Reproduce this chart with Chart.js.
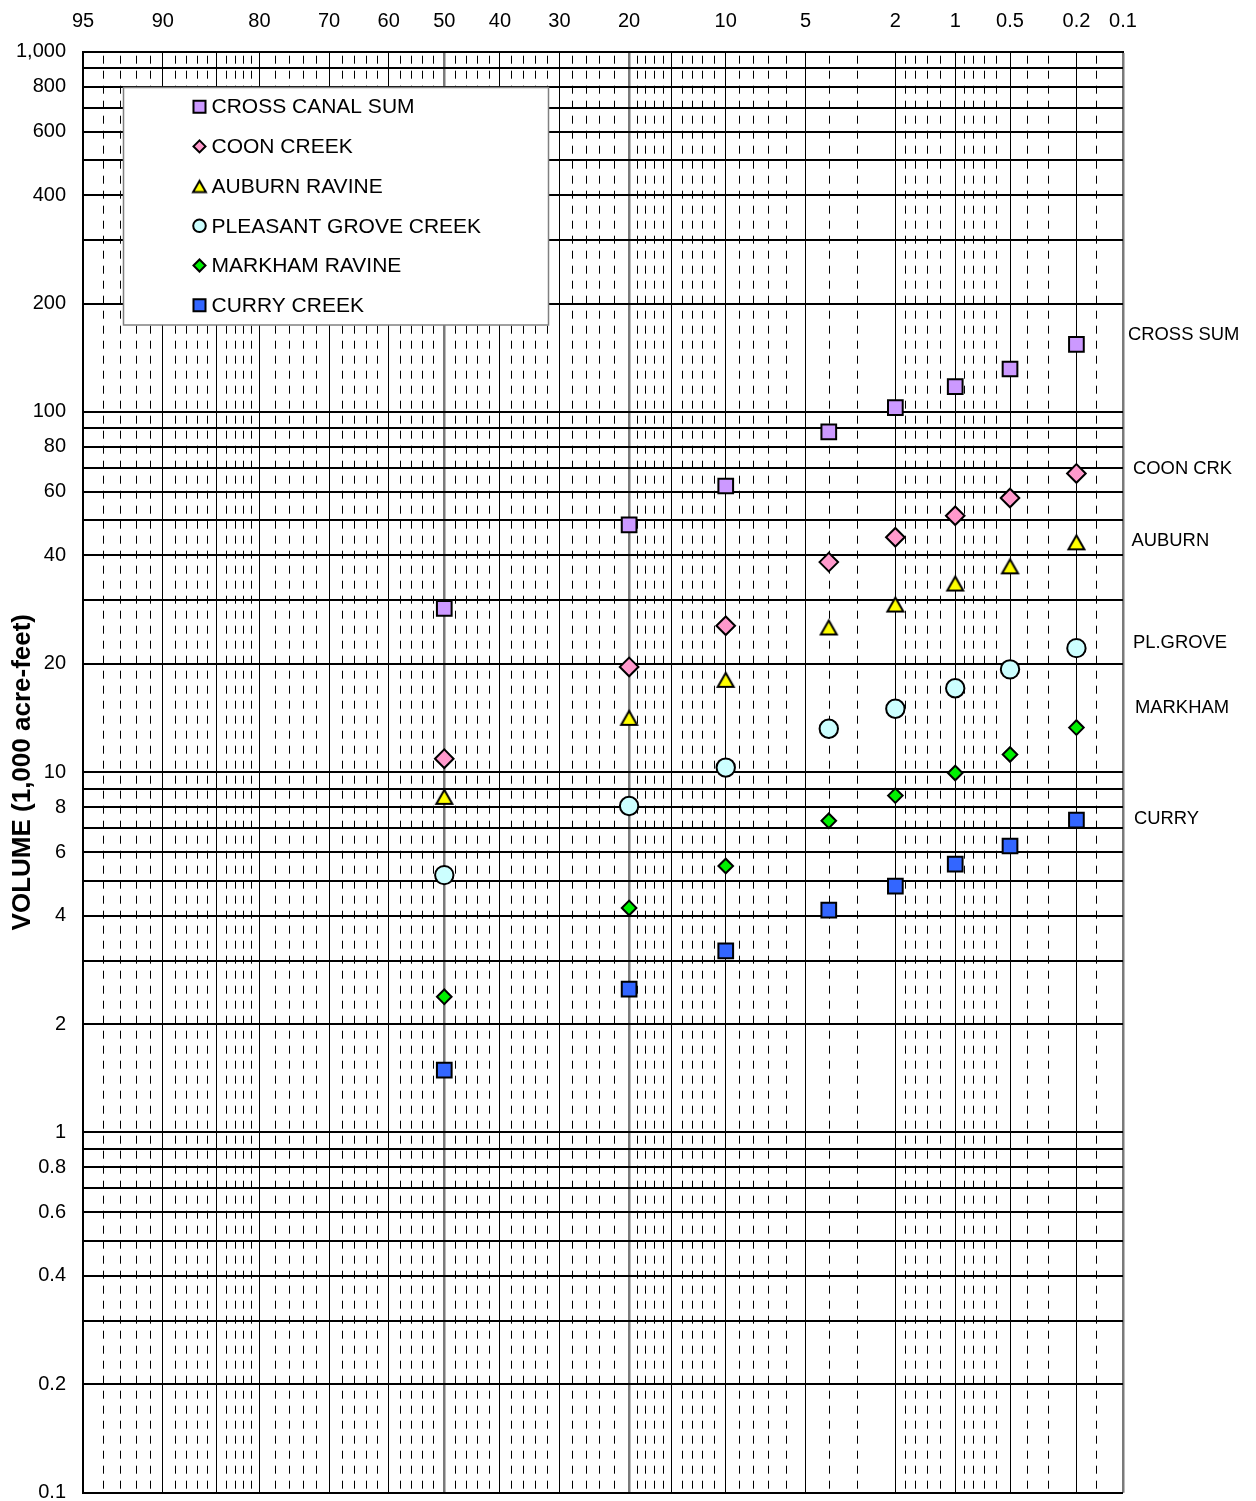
<!DOCTYPE html>
<html><head><meta charset="utf-8">
<script src="https://cdn.jsdelivr.net/npm/chart.js@4/dist/chart.umd.min.js"></script>
<style>html,body{margin:0;padding:0;background:#fff}canvas{display:block}</style>
</head><body>
<canvas id="c" width="1256" height="1501"></canvas>
<script>
// ---- data (exceedance probability in %, volume in 1,000 acre-feet) ----
const exceedanceProb = [50, 20, 10, 4, 2, 1, 0.5, 0.2];
const crossCanalSum = [28.5, 48.6, 62.3, 88.1, 102.8, 117.5, 131.6, 154.1];
const coonCreek = [10.9, 19.6, 25.5, 38.3, 44.9, 51.5, 57.7, 67.5];
const auburnRavine = [8.57, 14.2, 18.1, 25.3, 29.3, 33.5, 37.4, 43.6];
const pleasantGroveCreek = [5.18, 8.06, 10.3, 13.2, 15.0, 17.1, 19.3, 22.1];
const markhamRavine = [2.38, 4.2, 5.49, 7.33, 8.61, 9.95, 11.2, 13.3];
const curryCreek = [1.49, 2.5, 3.19, 4.14, 4.83, 5.56, 6.24, 7.36];
const seriesNames = ['CROSS CANAL SUM', 'COON CREEK', 'AUBURN RAVINE', 'PLEASANT GROVE CREEK', 'MARKHAM RAVINE', 'CURRY CREEK'];
const endLabels = ['CROSS SUM', 'COON CRK', 'AUBURN', 'PL.GROVE', 'MARKHAM', 'CURRY'];

// ---- axis ticks ----
const xLabelTicks = [95, 90, 80, 70, 60, 50, 40, 30, 20, 10, 5, 2, 1, 0.5, 0.2, 0.1];
const xMajorLines = [95, 90, 85, 80, 70, 60, 50, 40, 30, 20, 15, 10, 5, 2, 1, 0.5, 0.2, 0.1];
const xMinorLines = [94, 93, 92, 91, 89, 88, 87, 86, 84, 83, 82, 81, 78, 76, 74, 72, 68, 66, 64, 62,
  58, 56, 54, 52, 48, 46, 44, 42, 38, 36, 34, 32, 28, 26, 24, 22, 19, 18, 17, 16, 14, 13, 12, 11,
  9, 8, 7, 6, 4, 3, 1.8, 1.6, 1.4, 1.2, 0.9, 0.8, 0.7, 0.6, 0.4, 0.3, 0.15];
const yGridValues = [0.1, 0.2, 0.3, 0.4, 0.5, 0.6, 0.7, 0.8, 0.9, 1, 2, 3, 4, 5, 6, 7, 8, 9,
  10, 20, 30, 40, 50, 60, 70, 80, 90, 100, 200, 300, 400, 500, 600, 700, 800, 900, 1000];
const yLabelValues = [1000, 800, 600, 400, 200, 100, 80, 60, 40, 20, 10, 8, 6, 4, 2, 1, 0.8, 0.6, 0.4, 0.2, 0.1];
const yLabelTexts = ['1,000', '800', '600', '400', '200', '100', '80', '60', '40', '20', '10', '8', '6', '4', '2', '1', '0.8', '0.6', '0.4', '0.2', '0.1'];

const FONT = "'Liberation Sans', Arial, sans-serif";
const same = (a, b) => Math.abs(a - b) < 1e-9 * Math.max(1, Math.abs(b));

// inverse standard normal CDF (Acklam)
function normInv(p) {
  const a = [-3.969683028665376e+01, 2.209460984245205e+02, -2.759285104469687e+02, 1.383577518672690e+02, -3.066479806614716e+01, 2.506628277459239e+00];
  const b = [-5.447609879822406e+01, 1.615858368580409e+02, -1.556989798598866e+02, 6.680131188771972e+01, -1.328068155288572e+01];
  const c = [-7.784894002430293e-03, -3.223964580411365e-01, -2.400758277161838e+00, -2.549732539343734e+00, 4.374664141464968e+00, 2.938163982698783e+00];
  const d = [7.784695709041462e-03, 3.224671290700398e-01, 2.445134137142996e+00, 3.754408661907416e+00];
  const pl = 0.02425, ph = 1 - pl;
  let q, r;
  if (p < pl) { q = Math.sqrt(-2 * Math.log(p)); return (((((c[0]*q+c[1])*q+c[2])*q+c[3])*q+c[4])*q+c[5]) / ((((d[0]*q+d[1])*q+d[2])*q+d[3])*q+1); }
  if (p <= ph) { q = p - 0.5; r = q*q; return (((((a[0]*r+a[1])*r+a[2])*r+a[3])*r+a[4])*r+a[5])*q / (((((b[0]*r+b[1])*r+b[2])*r+b[3])*r+b[4])*r+1); }
  q = Math.sqrt(-2 * Math.log(1 - p)); return -(((((c[0]*q+c[1])*q+c[2])*q+c[3])*q+c[4])*q+c[5]) / ((((d[0]*q+d[1])*q+d[2])*q+d[3])*q+1);
}
function zOf(pct) { const p = Math.min(Math.max(1 - pct / 100, 1e-9), 1 - 1e-9); return normInv(p); }

// custom normal-probability scale (values = exceedance %)
class ProbabilityScale extends Chart.Scale {
  determineDataLimits() { this.min = this.options.min; this.max = this.options.max; }
  buildTicks() { return xMajorLines.map(v => ({ value: v })); }
  configure() { super.configure(); this._z0 = zOf(this.min); this._z1 = zOf(this.max); }
  getLabelForValue(v) { return String(v); }
  getPixelForValue(v) { return this.getPixelForDecimal((zOf(v) - this._z0) / (this._z1 - this._z0)); }
  getValueForPixel(px) {
    const dec = this.getDecimalForPixel(px);
    const z = this._z0 + dec * (this._z1 - this._z0);
    let lo = 1e-6, hi = 100 - 1e-6;
    for (let i = 0; i < 60; i++) { const m = (lo + hi) / 2; if (zOf(m) > z) lo = m; else hi = m; }
    return (lo + hi) / 2;
  }
}
ProbabilityScale.id = 'probability';
ProbabilityScale.defaults = {};
Chart.register(ProbabilityScale);

function makeTriangle(size, fill) {
  const c = document.createElement('canvas');
  c.width = size; c.height = size;
  const g = c.getContext('2d');
  const s = size;
  g.beginPath();
  g.moveTo(s / 2, s * 0.19);
  g.lineTo(s * 0.88, s * 0.86);
  g.lineTo(s * 0.12, s * 0.86);
  g.closePath();
  g.fillStyle = fill; g.fill();
  g.lineWidth = 2; g.strokeStyle = '#000'; g.lineJoin = 'miter'; g.stroke();
  return c;
}
const triBig = makeTriangle(21, '#FFFF00');
const triSmall = makeTriangle(17, '#FFFF00');

const seriesValues = [crossCanalSum, coonCreek, auburnRavine, pleasantGroveCreek, markhamRavine, curryCreek];
const styles = [
  { bg: '#CC99FF', style: 'rect', r: 10.4, lr: 8.5 },
  { bg: '#FF99CC', style: 'rectRot', r: 9.3, lr: 6 },
  { bg: '#FFFF00', style: triBig, r: 9, lr: 0, legendStyle: triSmall },
  { bg: '#CCFFFF', style: 'circle', r: 9.2, lr: 6.3 },
  { bg: '#00F000', style: 'rectRot', r: 7.3, lr: 6 },
  { bg: '#3366FF', style: 'rect', r: 10.4, lr: 8.5 }
];

const datasets = seriesNames.map((name, i) => ({
  label: name,
  data: exceedanceProb.map((p, j) => ({ x: p, y: seriesValues[i][j] })),
  pointStyle: styles[i].style,
  pointRadius: styles[i].r,
  backgroundColor: styles[i].bg,
  borderColor: '#000',
  borderWidth: 2,
  showLine: false
}));

const minorGridPlugin = {
  id: 'minorGrid',
  beforeDatasetsDraw(chart) {
    const { ctx, chartArea: a } = chart;
    const x = chart.scales.x;
    ctx.save();
    ctx.beginPath(); ctx.rect(a.left, a.top, a.right - a.left, a.bottom - a.top); ctx.clip();
    ctx.strokeStyle = '#000'; ctx.lineWidth = 1; ctx.setLineDash([8, 7]);
    xMinorLines.forEach(p => {
      const px = Math.round(x.getPixelForValue(p)) + 0.5;
      ctx.beginPath(); ctx.moveTo(px, a.top + 4); ctx.lineTo(px, a.bottom); ctx.stroke();
    });
    ctx.restore();
  }
};

const legendPlugin = {
  id: 'boxLegend',
  afterDatasetsDraw(chart) {
    const { ctx } = chart;
    const bx = 123.5, by = 87.5, bw = 425, bh = 237.5;
    ctx.save();
    ctx.fillStyle = '#fff';
    ctx.fillRect(bx, by, bw, bh);
    ctx.strokeStyle = '#808080'; ctx.lineWidth = 1.5;
    ctx.strokeRect(bx, by, bw, bh);
    ctx.font = '21px ' + FONT;
    ctx.textBaseline = 'middle'; ctx.textAlign = 'left';
    seriesNames.forEach((name, i) => {
      const cy = 106.7 + i * 39.7;
      const st = styles[i];
      ctx.fillStyle = st.bg; ctx.strokeStyle = '#000'; ctx.lineWidth = 2;
      Chart.helpers.drawPoint(ctx, {
        pointStyle: st.legendStyle || st.style, radius: st.lr, rotation: 0, borderWidth: 2
      }, 199.5, cy);
      ctx.fillStyle = '#000';
      ctx.fillText(name, 211.5, cy + 1);
    });
    ctx.restore();
  }
};

const endLabelPlugin = {
  id: 'endLabels',
  afterDraw(chart) {
    const { ctx, chartArea: a } = chart;
    const offs = [5, 10, 8.5, 10, 12, 11];
    const ys = [334, 468, 540, 641.7, 707, 818];
    ctx.save();
    ctx.font = '18.4px ' + FONT;
    ctx.fillStyle = '#000'; ctx.textAlign = 'left'; ctx.textBaseline = 'middle';
    endLabels.forEach((t, i) => ctx.fillText(t, a.right + offs[i], ys[i] + 1));
    ctx.restore();
  }
};

new Chart(document.getElementById('c'), {
  type: 'scatter',
  data: { datasets },
  options: {
    responsive: false,
    animation: false,
    events: [],
    layout: { autoPadding: false, padding: { left: 0, right: 133, top: 0, bottom: 8.3 } },
    plugins: { legend: { display: false }, tooltip: { enabled: false } },
    scales: {
      x: {
        type: 'probability',
        position: 'top',
        min: 95, max: 0.1,
        afterFit(s) { s.height = 51.7; s.paddingLeft = 0; s.paddingRight = 0; },
        border: { display: true, color: '#000', width: 2 },
        grid: {
          drawTicks: false,
          color: ctx => {
            const v = ctx.tick && ctx.tick.value;
            return (same(v, 50) || same(v, 20) || same(v, 0.1)) ? '#7a7a7a' : '#000';
          },
          lineWidth: ctx => {
            const v = ctx.tick && ctx.tick.value;
            if (same(v, 50) || same(v, 20) || same(v, 0.1)) return 2.5;
            if (same(v, 95)) return 2;
            return 1;
          }
        },
        ticks: {
          autoSkip: false, maxRotation: 0, padding: 18,
          color: '#000', font: { family: FONT, size: 20 },
          callback: v => (xLabelTicks.some(t => same(t, v)) ? String(v) : '')
        }
      },
      y: {
        type: 'logarithmic',
        position: 'left',
        min: 0.1, max: 1000,
        afterBuildTicks(s) { s.ticks = yGridValues.map(v => ({ value: v })); },
        afterFit(s) { s.width = 83; s.paddingTop = 0; s.paddingBottom = 0; },
        border: { display: true, color: '#000', width: 2 },
        grid: { drawTicks: false, color: '#000', lineWidth: 2 },
        ticks: {
          autoSkip: false, padding: 17, color: '#000',
          font: { family: FONT, size: 20, lineHeight: 0.8 },
          callback: v => {
            const k = yLabelValues.findIndex(t => same(t, v));
            return k >= 0 ? yLabelTexts[k] : '';
          }
        },
        title: {
          display: true, text: 'VOLUME (1,000 acre-feet)', color: '#000',
          font: { family: FONT, size: 26, weight: 'bold' },
          padding: { top: 7, bottom: 0 }
        }
      }
    }
  },
  plugins: [minorGridPlugin, legendPlugin, endLabelPlugin]
});
</script>
</body></html>
